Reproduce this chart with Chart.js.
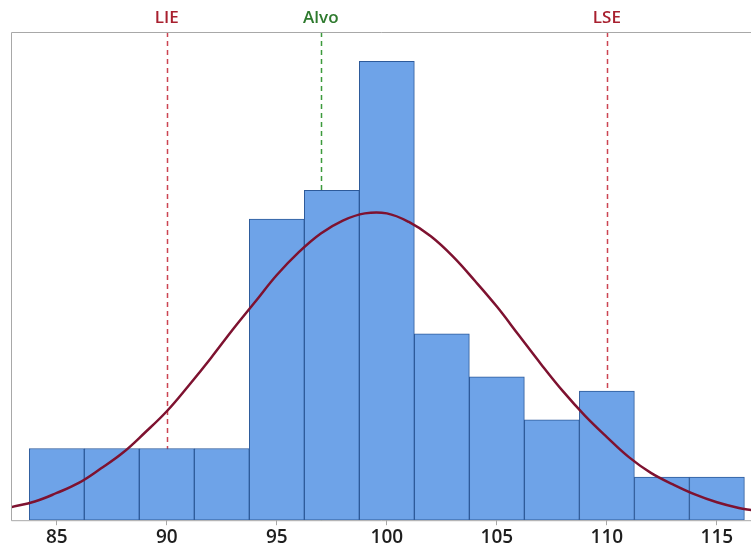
<!DOCTYPE html>
<html>
<head>
<meta charset="utf-8">
<script src="https://cdn.jsdelivr.net/npm/chart.js@4/dist/chart.umd.min.js"></script>
<style>
  html, body { margin: 0; padding: 0; background: #ffffff; }
  #wrap { width: 751px; height: 550px; }
</style>
</head>
<body>
<div id="wrap"><canvas id="chart"></canvas></div>
<script>
// histogram bins (centre of each 2.5-wide bin) and counts
const binCenters = [85, 87.5, 90, 92.5, 95, 97.5, 100, 102.5, 105, 107.5, 110, 112.5, 115];
const binCounts = [5, 5, 5, 5, 21, 23, 32, 13, 10, 7, 9, 3, 3];

// fitted curve
const curveX = [82.9, 84, 85, 86, 87, 88, 89, 90, 91, 92, 93, 94, 95, 96, 97, 98, 99,
                100, 101, 102, 103, 104, 105, 106, 107, 108, 109, 110, 111, 112, 113, 114, 115, 116, 116.6];
const curveY = [0.9, 1.3, 1.9, 2.6, 3.6, 4.7, 6.1, 7.6, 9.4, 11.3, 13.3, 15.2, 17.1, 18.7, 20.0, 20.9, 21.4,
                21.4, 20.8, 19.8, 18.4, 16.7, 14.9, 12.9, 10.9, 9.0, 7.3, 5.8, 4.4, 3.3, 2.5, 1.8, 1.25, 0.85, 0.7];

const xTicks = [85, 90, 95, 100, 105, 110, 115];

// specification limits
const specNames = ['LIE', 'Alvo', 'LSE'];
const specValues = [90, 97, 110];

const COLORS = {
    bar: '#6ea3e8',
    barBorder: '#2d5a9a',
    curve: '#7e1230',
    limit: '#cc4452',
    limitText: '#a8202f',
    target: '#3c9a3c',
    targetText: '#2e7a2e',
    frame: '#a8a8a8',
    tick: '#1e1e1e',
};

const specLinePlugin = {
    id: 'specLines',
    beforeDatasetsDraw(chart) {
        const { ctx, chartArea, scales } = chart;
        ctx.save();
        specValues.forEach((v, i) => {
            const x = Math.round(scales.x.getPixelForValue(v)) + 0.5;
            const isTarget = specNames[i] === 'Alvo';
            ctx.strokeStyle = isTarget ? COLORS.target : COLORS.limit;
            ctx.lineWidth = 1.5;
            ctx.setLineDash([5, 4]);
            ctx.beginPath();
            ctx.moveTo(x, chartArea.top);
            ctx.lineTo(x, chartArea.bottom);
            ctx.stroke();
        });
        ctx.restore();
    },
    afterDraw(chart) {
        const { ctx, chartArea, scales } = chart;
        ctx.save();
        // frame: left, top and bottom (right edge falls outside the picture)
        ctx.strokeStyle = COLORS.frame;
        ctx.lineWidth = 1;
        ctx.beginPath();
        ctx.moveTo(chartArea.right, chartArea.top + 0.5);
        ctx.lineTo(chartArea.left + 0.5, chartArea.top + 0.5);
        ctx.lineTo(chartArea.left + 0.5, chartArea.bottom + 0.5);
        ctx.lineTo(chartArea.right, chartArea.bottom + 0.5);
        ctx.stroke();
        // limit labels above the plot
        ctx.font = '600 17px "Open Sans", sans-serif';
        ctx.textAlign = 'center';
        ctx.textBaseline = 'middle';
        specValues.forEach((v, i) => {
            const x = scales.x.getPixelForValue(v);
            ctx.fillStyle = specNames[i] === 'Alvo' ? COLORS.targetText : COLORS.limitText;
            ctx.fillText(specNames[i], x, chartArea.top - 14);
        });
        ctx.restore();
    },
};

new Chart(document.getElementById('chart'), {
    data: {
        datasets: [
            {
                type: 'line',
                data: curveX.map((x, i) => ({ x, y: curveY[i] })),
                borderColor: COLORS.curve,
                borderWidth: 2.5,
                pointRadius: 0,
                tension: 0.4,
                fill: false,
                order: 0,
            },
            {
                type: 'bar',
                data: binCenters.map((x, i) => ({ x, y: binCounts[i] })),
                backgroundColor: COLORS.bar,
                borderColor: COLORS.barBorder,
                borderWidth: 1,
                borderSkipped: false,
                barPercentage: 1,
                categoryPercentage: 1,
                order: 1,
            },
        ],
    },
    options: {
        responsive: true,
        maintainAspectRatio: false,
        animation: false,
        layout: { padding: { left: 11, top: 32, right: 0, bottom: 0 } },
        plugins: {
            legend: { display: false },
            tooltip: { enabled: false },
        },
        scales: {
            x: {
                type: 'linear',
                offset: false,
                min: 82.92,
                max: 116.55,
                afterBuildTicks: (scale) => { scale.ticks = xTicks.map(v => ({ value: v })); },
                grid: { offset: false, drawOnChartArea: false, drawTicks: true, tickLength: 5, color: COLORS.frame },
                border: { display: false },
                ticks: {
                    padding: 1,
                    color: COLORS.tick,
                    font: { family: 'Open Sans', size: 19, weight: '600' },
                    maxRotation: 0,
                },
            },
            y: {
                display: false,
                min: 0,
                max: 34.05,
            },
        },
    },
    plugins: [specLinePlugin],
});
</script>
</body>
</html>
